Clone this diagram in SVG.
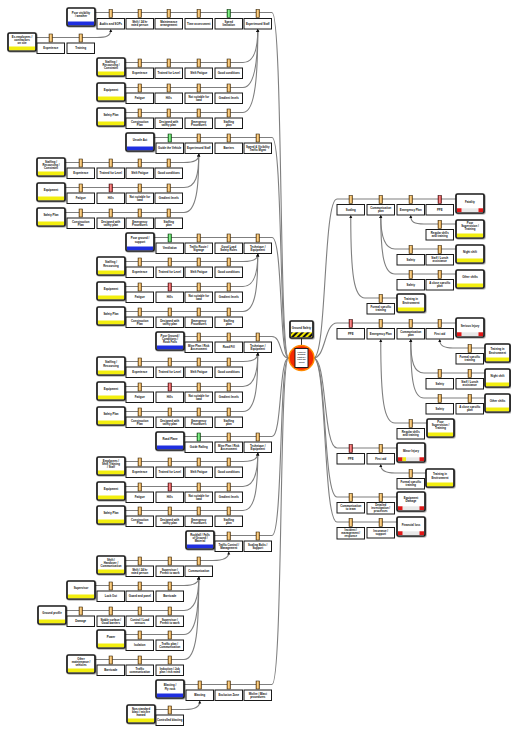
<svg xmlns="http://www.w3.org/2000/svg" width="511" height="729" viewBox="0 0 511 729">
<defs>
<linearGradient id="go" x1="0" x2="1"><stop offset="0" stop-color="#c27510"/><stop offset=".5" stop-color="#ffe0a0"/><stop offset="1" stop-color="#c27510"/></linearGradient>
<linearGradient id="gg" x1="0" x2="1"><stop offset="0" stop-color="#139a20"/><stop offset=".5" stop-color="#9dfca0"/><stop offset="1" stop-color="#139a20"/></linearGradient>
<linearGradient id="gr" x1="0" x2="1"><stop offset="0" stop-color="#b51010"/><stop offset=".5" stop-color="#ffa0a0"/><stop offset="1" stop-color="#b51010"/></linearGradient>
<pattern id="hz" width="4" height="4" patternUnits="userSpaceOnUse" patternTransform="rotate(45)"><rect width="4" height="4" fill="#f2e600"/><rect width="2" height="4" fill="#111"/></pattern>
<filter id="sh" x="-20%" y="-20%" width="150%" height="150%"><feDropShadow dx="0.8" dy="0.8" stdDeviation="0.6" flood-opacity="0.35"/></filter>
<marker id="m" markerWidth="4" markerHeight="4" refX="2" refY="2" orient="auto" markerUnits="userSpaceOnUse"><path d="M0,0.5 L3,2 L0,3.5Z" fill="#111"/></marker>
</defs>
<style>
.ln{fill:none;stroke:#7f7f7f;stroke-width:1.1}
.es{fill:none;stroke:#7f7f7f;stroke-width:1.1;marker-end:url(#m)}
.bx{fill:#fff;stroke:#1a1a1a;stroke-width:1}
.nd{fill:#fff;stroke:#1a1a1a;stroke-width:1.7;filter:url(#sh)}
.io{fill:url(#go);stroke:#3a2a10;stroke-width:.6}
.ig{fill:url(#gg);stroke:#103a10;stroke-width:.6}
.ir{fill:url(#gr);stroke:#3a1010;stroke-width:.6}
.bl{fill:#1f2fe0}
.ye{fill:#f2ee10}
.rd{fill:#e01818}
.gy{fill:#e8e8e8}
text{font-family:"Liberation Sans",Arial,sans-serif;font-size:2.8px;font-weight:bold;text-anchor:middle;fill:#111}
</style>
<rect width="511" height="729" fill="#fff"/>

<g id="connectors">
<path class="ln" d="M95,12.5 H272 C283,12.5 279,358 288.5,358"/>
<path class="ln" d="M154,137.5 H272 C283,137.5 279,358 288.5,358"/>
<path class="ln" d="M154,237.5 H272 C283,237.5 279,358 288.5,358"/>
<path class="ln" d="M184,336.5 H272 C282,336.5 279,358 288.5,358"/>
<path class="ln" d="M184,436.5 H272 C282,436.5 279,358 288.5,358"/>
<path class="ln" d="M214,535.5 H272 C283,535.5 279,358 288.5,358"/>
<path class="ln" d="M184,684.5 H272 C283,684.5 279,358 288.5,358"/>
<path class="es" d="M36,37.5 H97 C106,37.5 110.75,36 110.75,30"/>
<path class="es" d="M125,62.5 H243 C254,62.5 257.75,50 257.75,30"/>
<path class="es" d="M125,87.5 H243 C255,87.5 257.75,60 257.75,30"/>
<path class="es" d="M125,112.5 H243 C256,112.5 257.75,70 257.75,30"/>
<path class="es" d="M65,162.5 H184 C195,162.5 198.75,160 198.75,154.5"/>
<path class="es" d="M65,187.5 H184 C196,187.5 198.75,175 198.75,154.5"/>
<path class="es" d="M65,212.5 H184 C197,212.5 198.75,185 198.75,154.5"/>
<path class="es" d="M125,261.5 H243 C254,261.5 257.75,258 257.75,254.5"/>
<path class="es" d="M125,286.5 H243 C255,286.5 257.75,270 257.75,254.5"/>
<path class="es" d="M125,311.5 H243 C256,311.5 257.75,285 257.75,254.5"/>
<path class="es" d="M125,361.5 H243 C254,361.5 257.75,358 257.75,353.5"/>
<path class="es" d="M125,386.5 H243 C255,386.5 257.75,370 257.75,353.5"/>
<path class="es" d="M125,411.5 H243 C256,411.5 257.75,385 257.75,353.5"/>
<path class="es" d="M125,461.5 H243 C254,461.5 257.75,458 257.75,453.5"/>
<path class="es" d="M125,486.5 H243 C255,486.5 257.75,470 257.75,453.5"/>
<path class="es" d="M125,510.5 H243 C256,510.5 257.75,485 257.75,453.5"/>
<path class="es" d="M125,560.5 H213 C224,560.5 228.75,557 228.75,552.5"/>
<path class="es" d="M95,585.5 H184 C195,585.5 198.75,582 198.75,577.5"/>
<path class="es" d="M66,610.5 H184 C196,610.5 198.75,595 198.75,577.5"/>
<path class="es" d="M125,634.5 H184 C196,634.5 198.75,610 198.75,577.5"/>
<path class="es" d="M95,659.5 H184 C197,659.5 198.75,625 198.75,577.5"/>
<path class="es" d="M155,709.5 H185 C196,709.5 199.75,706 199.75,701.5"/>
<path class="ln" d="M313.5,358 C327,358 323,199 337,199 H456"/>
<path class="ln" d="M313.5,358 C326,358 324,323 337,323 H456"/>
<path class="ln" d="M313.5,358 C327,358 323,448 337,448 H397"/>
<path class="ln" d="M313.5,358 C327,358 323,497 337,497 H397"/>
<path class="ln" d="M313.5,358 C327,358 323,522 337,522 H397"/>
<path class="es" d="M456,224 H424 C414,224 410.75,222 410.75,216"/>
<path class="es" d="M456,249 H395 C385,249 380.75,238 380.75,216"/>
<path class="es" d="M456,274 H395 C384,274 380.75,255 380.75,216"/>
<path class="es" d="M397,298 H365 C354,298 350.75,275 350.75,216"/>
<path class="es" d="M485,348 H453 C444,348 439.75,346 439.75,340"/>
<path class="es" d="M485,373 H424 C414,373 410.75,362 410.75,340"/>
<path class="es" d="M485,398 H424 C413,398 410.75,378 410.75,340"/>
<path class="es" d="M427,423 H395 C384,423 380.75,400 380.75,340"/>
<path class="es" d="M426,473 H395 C385,473 380.75,470 380.75,465"/>
<line x1="301.5" y1="338" x2="301.5" y2="345.5" stroke="#333" stroke-width="1"/>
</g>

<!-- Center -->
<g id="hazard"><rect class="nd" x="290" y="321" width="23" height="17" rx="1.2"/><rect x="291" y="332.3" width="21" height="4.8" fill="url(#hz)"/><text x="301.5" y="328.5">Ground Safety</text></g>
<g id="top-event"><circle cx="301.5" cy="358" r="12.5" fill="#f52a00" stroke="#ff8a00" stroke-width="1.5"/><rect x="295" y="348.5" width="13" height="19" fill="#fff" stroke="#111" stroke-width="0.9"/><text style="font-size:2.2px" x="301.5" y="352.5"><tspan>Loss of</tspan><tspan x="301.5" dy="2.6">ground</tspan><tspan x="301.5" dy="2.6">control /</tspan><tspan x="301.5" dy="2.6">rock fall</tspan><tspan x="301.5" dy="2.6">event</tspan></text></g>

<!-- Threat 1 -->
<g id="t1"><rect class="nd" x="67" y="8" width="28" height="18" rx="1.5"/><rect class="bl" x="68" y="21.5" width="26" height="3.7"/><text x="81" y="13.5"><tspan>Poor visibility</tspan><tspan x="81" dy="3.3">/ weather</tspan></text></g>
<g id="t1b1"><rect class="bx" x="97" y="18.5" width="27.5" height="10.5"/><rect class="io" x="109.05" y="9.5" width="3.4" height="8"/><text x="110.75" y="24.8">Audits and SOPs</text></g>
<g id="t1b2"><rect class="bx" x="126" y="18.5" width="27.5" height="10.5"/><rect class="io" x="138.05" y="9.5" width="3.4" height="8"/><text x="139.75" y="23"><tspan>Shift / 24 hr</tspan><tspan x="139.75" dy="3.3">rated person</tspan></text></g>
<g id="t1b3"><rect class="bx" x="155" y="18.5" width="27.5" height="10.5"/><rect class="io" x="167.05" y="9.5" width="3.4" height="8"/><text x="168.75" y="23"><tspan>Maintenance</tspan><tspan x="168.75" dy="3.3">arrangement</tspan></text></g>
<g id="t1b4"><rect class="bx" x="185" y="18.5" width="27.5" height="10.5"/><rect class="io" x="197.05" y="9.5" width="3.4" height="8"/><text x="198.75" y="24.8">Time assessment</text></g>
<g id="t1b5"><rect class="bx" x="215" y="18.5" width="27.5" height="10.5"/><rect class="ig" x="227.05" y="9.5" width="3.4" height="8"/><text x="228.75" y="23"><tspan>Speed</tspan><tspan x="228.75" dy="3.3">limitation</tspan></text></g>
<g id="t1b6"><rect class="bx" x="244" y="18.5" width="27.5" height="10.5"/><rect class="io" x="256.05" y="9.5" width="3.4" height="8"/><text x="257.75" y="24.8">Experienced Staff</text></g>

<g id="e1a"><rect class="nd" x="8" y="33" width="28" height="18" rx="1.5"/><rect class="ye" x="9" y="46.5" width="26" height="3.7"/><text x="22" y="37.8"><tspan>Ex-employees /</tspan><tspan x="22" dy="3.2">contractors</tspan><tspan x="22" dy="3.2">on site</tspan></text></g>
<g id="e1a1"><rect class="bx" x="37" y="43" width="27.5" height="10.5"/><rect class="io" x="49.05" y="34" width="3.4" height="8"/><text x="50.75" y="49.3">Experience</text></g>
<g id="e1a2"><rect class="bx" x="67" y="43" width="27.5" height="10.5"/><rect class="io" x="79.05" y="34" width="3.4" height="8"/><text x="80.75" y="49.3">Training</text></g>

<!-- Escalations group 1 -->
<g id="e1b"><rect class="nd" x="97" y="58" width="28" height="18" rx="1.5"/><rect class="ye" x="98" y="71.5" width="26" height="3.7"/><text x="111" y="62.8"><tspan>Staffing /</tspan><tspan x="111" dy="3.2">Resourcing /</tspan><tspan x="111" dy="3.2">Constraint</tspan></text></g>
<g id="e1b1"><rect class="bx" x="126" y="68" width="27.5" height="10.5"/><rect class="io" x="138.05" y="59" width="3.4" height="8"/><text x="139.75" y="74.3">Experience</text></g>
<g id="e1b2"><rect class="bx" x="155" y="68" width="27.5" height="10.5"/><rect class="io" x="167.05" y="59" width="3.4" height="8"/><text x="168.75" y="74.3">Trained for Level</text></g>
<g id="e1b3"><rect class="bx" x="185" y="68" width="27.5" height="10.5"/><rect class="io" x="197.05" y="59" width="3.4" height="8"/><text x="198.75" y="74.3">Shift Fatigue</text></g>
<g id="e1b4"><rect class="bx" x="215" y="68" width="27.5" height="10.5"/><rect class="io" x="227.05" y="59" width="3.4" height="8"/><text x="228.75" y="74.3">Good conditions</text></g>

<g id="e1c"><rect class="nd" x="97" y="83" width="28" height="18" rx="1.5"/><rect class="ye" x="98" y="96.5" width="26" height="3.7"/><text x="111" y="91">Equipment</text></g>
<g id="e1c1"><rect class="bx" x="126" y="93" width="27.5" height="10.5"/><rect class="io" x="138.05" y="84" width="3.4" height="8"/><text x="139.75" y="99.3">Fatigue</text></g>
<g id="e1c2"><rect class="bx" x="155" y="93" width="27.5" height="10.5"/><rect class="io" x="167.05" y="84" width="3.4" height="8"/><text x="168.75" y="99.3">Hills</text></g>
<g id="e1c3"><rect class="bx" x="185" y="93" width="27.5" height="10.5"/><rect class="io" x="197.05" y="84" width="3.4" height="8"/><text x="198.75" y="97.5"><tspan>Not suitable for</tspan><tspan x="198.75" dy="3.3">load</tspan></text></g>
<g id="e1c4"><rect class="bx" x="215" y="93" width="27.5" height="10.5"/><rect class="io" x="227.05" y="84" width="3.4" height="8"/><text x="228.75" y="99.3">Gradient levels</text></g>

<g id="e1d"><rect class="nd" x="97" y="108" width="28" height="18" rx="1.5"/><rect class="ye" x="98" y="121.5" width="26" height="3.7"/><text x="111" y="116">Safety Plan</text></g>
<g id="e1d1"><rect class="bx" x="126" y="118" width="27.5" height="10.5"/><rect class="io" x="138.05" y="109" width="3.4" height="8"/><text x="139.75" y="122.5"><tspan>Construction</tspan><tspan x="139.75" dy="3.3">Plan</tspan></text></g>
<g id="e1d2"><rect class="bx" x="155" y="118" width="27.5" height="10.5"/><rect class="io" x="167.05" y="109" width="3.4" height="8"/><text x="168.75" y="122.5"><tspan>Designed with</tspan><tspan x="168.75" dy="3.3">safety plan</tspan></text></g>
<g id="e1d3"><rect class="bx" x="185" y="118" width="27.5" height="10.5"/><rect class="io" x="197.05" y="109" width="3.4" height="8"/><text x="198.75" y="122.5"><tspan>Emergency</tspan><tspan x="198.75" dy="3.3">Procedures</tspan></text></g>
<g id="e1d4"><rect class="bx" x="215" y="118" width="27.5" height="10.5"/><rect class="io" x="227.05" y="109" width="3.4" height="8"/><text x="228.75" y="122.5"><tspan>Staffing</tspan><tspan x="228.75" dy="3.3">plan</tspan></text></g>

<!-- Threat 2 -->
<g id="t2"><rect class="nd" x="126" y="133" width="28" height="18" rx="1.5"/><rect class="bl" x="127" y="146.5" width="26" height="3.7"/><text x="140" y="141">Unsafe Act</text></g>
<g id="t2b1"><rect class="bx" x="156" y="143" width="27.5" height="10.5"/><rect class="ig" x="168.05" y="134" width="3.4" height="8"/><text x="169.75" y="149.3">Guide the Vehicle</text></g>
<g id="t2b2"><rect class="bx" x="185" y="143" width="27.5" height="10.5"/><rect class="io" x="197.05" y="134" width="3.4" height="8"/><text x="198.75" y="149.3">Experienced Staff</text></g>
<g id="t2b3"><rect class="bx" x="215" y="143" width="27.5" height="10.5"/><rect class="io" x="227.05" y="134" width="3.4" height="8"/><text x="228.75" y="149.3">Barriers</text></g>
<g id="t2b4"><rect class="bx" x="244" y="143" width="27.5" height="10.5"/><rect class="io" x="256.05" y="134" width="3.4" height="8"/><text x="257.75" y="147.5"><tspan>Speed &amp; Visibility</tspan><tspan x="257.75" dy="3.3">Traffic Mgmt</tspan></text></g>

<g id="e2a"><rect class="nd" x="37" y="158" width="28" height="18" rx="1.5"/><rect class="ye" x="38" y="171.5" width="26" height="3.7"/><text x="51" y="162.8"><tspan>Staffing /</tspan><tspan x="51" dy="3.2">Resourcing /</tspan><tspan x="51" dy="3.2">Constraint</tspan></text></g>
<g id="e2a1"><rect class="bx" x="67" y="168" width="27.5" height="10.5"/><rect class="io" x="79.05" y="159" width="3.4" height="8"/><text x="80.75" y="174.3">Experience</text></g>
<g id="e2a2"><rect class="bx" x="97" y="168" width="27.5" height="10.5"/><rect class="io" x="109.05" y="159" width="3.4" height="8"/><text x="110.75" y="174.3">Trained for Level</text></g>
<g id="e2a3"><rect class="bx" x="126" y="168" width="27.5" height="10.5"/><rect class="io" x="138.05" y="159" width="3.4" height="8"/><text x="139.75" y="174.3">Shift Fatigue</text></g>
<g id="e2a4"><rect class="bx" x="155" y="168" width="27.5" height="10.5"/><rect class="io" x="167.05" y="159" width="3.4" height="8"/><text x="168.75" y="174.3">Good conditions</text></g>

<g id="e2b"><rect class="nd" x="37" y="183" width="28" height="18" rx="1.5"/><rect class="ye" x="38" y="196.5" width="26" height="3.7"/><text x="51" y="191">Equipment</text></g>
<g id="e2b1"><rect class="bx" x="67" y="193" width="27.5" height="10.5"/><rect class="io" x="79.05" y="184" width="3.4" height="8"/><text x="80.75" y="199.3">Fatigue</text></g>
<g id="e2b2"><rect class="bx" x="97" y="193" width="27.5" height="10.5"/><rect class="ir" x="109.05" y="184" width="3.4" height="8"/><text x="110.75" y="199.3">Hills</text></g>
<g id="e2b3"><rect class="bx" x="126" y="193" width="27.5" height="10.5"/><rect class="io" x="138.05" y="184" width="3.4" height="8"/><text x="139.75" y="197.5"><tspan>Not suitable for</tspan><tspan x="139.75" dy="3.3">load</tspan></text></g>
<g id="e2b4"><rect class="bx" x="155" y="193" width="27.5" height="10.5"/><rect class="io" x="167.05" y="184" width="3.4" height="8"/><text x="168.75" y="199.3">Gradient levels</text></g>

<g id="e2c"><rect class="nd" x="37" y="208" width="28" height="18" rx="1.5"/><rect class="ye" x="38" y="221.5" width="26" height="3.7"/><text x="51" y="216">Safety Plan</text></g>
<g id="e2c1"><rect class="bx" x="67" y="218" width="27.5" height="10.5"/><rect class="io" x="79.05" y="209" width="3.4" height="8"/><text x="80.75" y="222.5"><tspan>Construction</tspan><tspan x="80.75" dy="3.3">Plan</tspan></text></g>
<g id="e2c2"><rect class="bx" x="97" y="218" width="27.5" height="10.5"/><rect class="io" x="109.05" y="209" width="3.4" height="8"/><text x="110.75" y="222.5"><tspan>Designed with</tspan><tspan x="110.75" dy="3.3">safety plan</tspan></text></g>
<g id="e2c3"><rect class="bx" x="126" y="218" width="27.5" height="10.5"/><rect class="io" x="138.05" y="209" width="3.4" height="8"/><text x="139.75" y="222.5"><tspan>Emergency</tspan><tspan x="139.75" dy="3.3">Procedures</tspan></text></g>
<g id="e2c4"><rect class="bx" x="155" y="218" width="27.5" height="10.5"/><rect class="io" x="167.05" y="209" width="3.4" height="8"/><text x="168.75" y="222.5"><tspan>Staffing</tspan><tspan x="168.75" dy="3.3">plan</tspan></text></g>

<!-- Threat 3 -->
<g id="t3"><rect class="nd" x="126" y="233" width="28" height="18" rx="1.5"/><rect class="bl" x="127" y="246.5" width="26" height="3.7"/><text x="140" y="239.3"><tspan>Poor ground /</tspan><tspan x="140" dy="3.3">support</tspan></text></g>
<g id="t3b1"><rect class="bx" x="156" y="243" width="27.5" height="10.5"/><rect class="ig" x="168.05" y="234" width="3.4" height="8"/><text x="169.75" y="249.3">Ventilation</text></g>
<g id="t3b2"><rect class="bx" x="185" y="243" width="27.5" height="10.5"/><rect class="io" x="197.05" y="234" width="3.4" height="8"/><text x="198.75" y="247.5"><tspan>Traffic Route /</tspan><tspan x="198.75" dy="3.3">Signage</tspan></text></g>
<g id="t3b3"><rect class="bx" x="215" y="243" width="27.5" height="10.5"/><rect class="io" x="227.05" y="234" width="3.4" height="8"/><text x="228.75" y="247.5"><tspan>Good Load</tspan><tspan x="228.75" dy="3.3">Safety Rules</tspan></text></g>
<g id="t3b4"><rect class="bx" x="244" y="243" width="27.5" height="10.5"/><rect class="io" x="256.05" y="234" width="3.4" height="8"/><text x="257.75" y="247.5"><tspan>Technique /</tspan><tspan x="257.75" dy="3.3">Equipment</tspan></text></g>

<g id="e3a"><rect class="nd" x="97" y="257" width="28" height="18" rx="1.5"/><rect class="ye" x="98" y="270.5" width="26" height="3.7"/><text x="111" y="263.3"><tspan>Staffing /</tspan><tspan x="111" dy="3.3">Resourcing</tspan></text></g>
<g id="e3a1"><rect class="bx" x="126" y="267" width="27.5" height="10.5"/><rect class="io" x="138.05" y="258" width="3.4" height="8"/><text x="139.75" y="273.3">Experience</text></g>
<g id="e3a2"><rect class="bx" x="156" y="267" width="27.5" height="10.5"/><rect class="io" x="168.05" y="258" width="3.4" height="8"/><text x="169.75" y="273.3">Trained for Level</text></g>
<g id="e3a3"><rect class="bx" x="185" y="267" width="27.5" height="10.5"/><rect class="io" x="197.05" y="258" width="3.4" height="8"/><text x="198.75" y="273.3">Shift Fatigue</text></g>
<g id="e3a4"><rect class="bx" x="215" y="267" width="27.5" height="10.5"/><rect class="io" x="227.05" y="258" width="3.4" height="8"/><text x="228.75" y="273.3">Good conditions</text></g>

<g id="e3b"><rect class="nd" x="97" y="282" width="28" height="18" rx="1.5"/><rect class="ye" x="98" y="295.5" width="26" height="3.7"/><text x="111" y="290">Equipment</text></g>
<g id="e3b1"><rect class="bx" x="126" y="292" width="27.5" height="10.5"/><rect class="io" x="138.05" y="283" width="3.4" height="8"/><text x="139.75" y="298.3">Fatigue</text></g>
<g id="e3b2"><rect class="bx" x="156" y="292" width="27.5" height="10.5"/><rect class="ir" x="168.05" y="283" width="3.4" height="8"/><text x="169.75" y="298.3">Hills</text></g>
<g id="e3b3"><rect class="bx" x="185" y="292" width="27.5" height="10.5"/><rect class="io" x="197.05" y="283" width="3.4" height="8"/><text x="198.75" y="296.5"><tspan>Not suitable for</tspan><tspan x="198.75" dy="3.3">load</tspan></text></g>
<g id="e3b4"><rect class="bx" x="215" y="292" width="27.5" height="10.5"/><rect class="io" x="227.05" y="283" width="3.4" height="8"/><text x="228.75" y="298.3">Gradient levels</text></g>

<g id="e3c"><rect class="nd" x="97" y="307" width="28" height="18" rx="1.5"/><rect class="ye" x="98" y="320.5" width="26" height="3.7"/><text x="111" y="315">Safety Plan</text></g>
<g id="e3c1"><rect class="bx" x="126" y="317" width="27.5" height="10.5"/><rect class="io" x="138.05" y="308" width="3.4" height="8"/><text x="139.75" y="321.5"><tspan>Construction</tspan><tspan x="139.75" dy="3.3">Plan</tspan></text></g>
<g id="e3c2"><rect class="bx" x="156" y="317" width="27.5" height="10.5"/><rect class="io" x="168.05" y="308" width="3.4" height="8"/><text x="169.75" y="321.5"><tspan>Designed with</tspan><tspan x="169.75" dy="3.3">safety plan</tspan></text></g>
<g id="e3c3"><rect class="bx" x="185" y="317" width="27.5" height="10.5"/><rect class="io" x="197.05" y="308" width="3.4" height="8"/><text x="198.75" y="321.5"><tspan>Emergency</tspan><tspan x="198.75" dy="3.3">Procedures</tspan></text></g>
<g id="e3c4"><rect class="bx" x="215" y="317" width="27.5" height="10.5"/><rect class="io" x="227.05" y="308" width="3.4" height="8"/><text x="228.75" y="321.5"><tspan>Staffing</tspan><tspan x="228.75" dy="3.3">plan</tspan></text></g>

<!-- Threat 4 -->
<g id="t4"><rect class="nd" x="156" y="332" width="28" height="18" rx="1.5"/><rect class="bl" x="157" y="345.5" width="26" height="3.7"/><text x="170" y="336.8"><tspan>Poor Ground /</tspan><tspan x="170" dy="3.2">Conditions /</tspan><tspan x="170" dy="3.2">Rock Falls</tspan></text></g>
<g id="t4b1"><rect class="bx" x="185" y="342" width="27.5" height="10.5"/><rect class="io" x="197.05" y="333" width="3.4" height="8"/><text x="198.75" y="346.5"><tspan>Mine Plan / Risk</tspan><tspan x="198.75" dy="3.3">Assessment</tspan></text></g>
<g id="t4b2"><rect class="bx" x="215" y="342" width="27.5" height="10.5"/><rect class="io" x="227.05" y="333" width="3.4" height="8"/><text x="228.75" y="348.3">Road Fill</text></g>
<g id="t4b3"><rect class="bx" x="244" y="342" width="27.5" height="10.5"/><rect class="io" x="256.05" y="333" width="3.4" height="8"/><text x="257.75" y="346.5"><tspan>Technique /</tspan><tspan x="257.75" dy="3.3">Equipment</tspan></text></g>

<g id="e4a"><rect class="nd" x="97" y="357" width="28" height="18" rx="1.5"/><rect class="ye" x="98" y="370.5" width="26" height="3.7"/><text x="111" y="363.3"><tspan>Staffing /</tspan><tspan x="111" dy="3.3">Resourcing</tspan></text></g>
<g id="e4a1"><rect class="bx" x="126" y="367" width="27.5" height="10.5"/><rect class="io" x="138.05" y="358" width="3.4" height="8"/><text x="139.75" y="373.3">Experience</text></g>
<g id="e4a2"><rect class="bx" x="156" y="367" width="27.5" height="10.5"/><rect class="io" x="168.05" y="358" width="3.4" height="8"/><text x="169.75" y="373.3">Trained for Level</text></g>
<g id="e4a3"><rect class="bx" x="185" y="367" width="27.5" height="10.5"/><rect class="io" x="197.05" y="358" width="3.4" height="8"/><text x="198.75" y="373.3">Shift Fatigue</text></g>
<g id="e4a4"><rect class="bx" x="215" y="367" width="27.5" height="10.5"/><rect class="io" x="227.05" y="358" width="3.4" height="8"/><text x="228.75" y="373.3">Good conditions</text></g>

<g id="e4b"><rect class="nd" x="97" y="382" width="28" height="18" rx="1.5"/><rect class="ye" x="98" y="395.5" width="26" height="3.7"/><text x="111" y="390">Equipment</text></g>
<g id="e4b1"><rect class="bx" x="126" y="392" width="27.5" height="10.5"/><rect class="io" x="138.05" y="383" width="3.4" height="8"/><text x="139.75" y="398.3">Fatigue</text></g>
<g id="e4b2"><rect class="bx" x="156" y="392" width="27.5" height="10.5"/><rect class="ir" x="168.05" y="383" width="3.4" height="8"/><text x="169.75" y="398.3">Hills</text></g>
<g id="e4b3"><rect class="bx" x="185" y="392" width="27.5" height="10.5"/><rect class="io" x="197.05" y="383" width="3.4" height="8"/><text x="198.75" y="396.5"><tspan>Not suitable for</tspan><tspan x="198.75" dy="3.3">load</tspan></text></g>
<g id="e4b4"><rect class="bx" x="215" y="392" width="27.5" height="10.5"/><rect class="io" x="227.05" y="383" width="3.4" height="8"/><text x="228.75" y="398.3">Gradient levels</text></g>

<g id="e4c"><rect class="nd" x="97" y="407" width="28" height="18" rx="1.5"/><rect class="ye" x="98" y="420.5" width="26" height="3.7"/><text x="111" y="415">Safety Plan</text></g>
<g id="e4c1"><rect class="bx" x="126" y="417" width="27.5" height="10.5"/><rect class="io" x="138.05" y="408" width="3.4" height="8"/><text x="139.75" y="421.5"><tspan>Construction</tspan><tspan x="139.75" dy="3.3">Plan</tspan></text></g>
<g id="e4c2"><rect class="bx" x="156" y="417" width="27.5" height="10.5"/><rect class="io" x="168.05" y="408" width="3.4" height="8"/><text x="169.75" y="421.5"><tspan>Designed with</tspan><tspan x="169.75" dy="3.3">safety plan</tspan></text></g>
<g id="e4c3"><rect class="bx" x="185" y="417" width="27.5" height="10.5"/><rect class="io" x="197.05" y="408" width="3.4" height="8"/><text x="198.75" y="421.5"><tspan>Emergency</tspan><tspan x="198.75" dy="3.3">Procedures</tspan></text></g>
<g id="e4c4"><rect class="bx" x="215" y="417" width="27.5" height="10.5"/><rect class="io" x="227.05" y="408" width="3.4" height="8"/><text x="228.75" y="421.5"><tspan>Staffing</tspan><tspan x="228.75" dy="3.3">plan</tspan></text></g>

<!-- Threat 5 -->
<g id="t5"><rect class="nd" x="156" y="432" width="28" height="18" rx="1.5"/><rect class="bl" x="157" y="445.5" width="26" height="3.7"/><text x="170" y="440">Road Plane</text></g>
<g id="t5b1"><rect class="bx" x="185" y="442" width="27.5" height="10.5"/><rect class="ig" x="197.05" y="433" width="3.4" height="8"/><text x="198.75" y="448.3">Guide Railing</text></g>
<g id="t5b2"><rect class="bx" x="215" y="442" width="27.5" height="10.5"/><rect class="io" x="227.05" y="433" width="3.4" height="8"/><text x="228.75" y="446.5"><tspan>Mine Plan / Risk</tspan><tspan x="228.75" dy="3.3">Assessment</tspan></text></g>
<g id="t5b3"><rect class="bx" x="244" y="442" width="27.5" height="10.5"/><rect class="io" x="256.05" y="433" width="3.4" height="8"/><text x="257.75" y="446.5"><tspan>Technique /</tspan><tspan x="257.75" dy="3.3">Equipment</tspan></text></g>

<g id="e5a"><rect class="nd" x="97" y="457" width="28" height="18" rx="1.5"/><rect class="ye" x="98" y="470.5" width="26" height="3.7"/><text x="111" y="461.8"><tspan>Employees /</tspan><tspan x="111" dy="3.2">Shift Training</tspan><tspan x="111" dy="3.2">/ Staff</tspan></text></g>
<g id="e5a1"><rect class="bx" x="126" y="467" width="27.5" height="10.5"/><rect class="io" x="138.05" y="458" width="3.4" height="8"/><text x="139.75" y="473.3">Experience</text></g>
<g id="e5a2"><rect class="bx" x="156" y="467" width="27.5" height="10.5"/><rect class="io" x="168.05" y="458" width="3.4" height="8"/><text x="169.75" y="473.3">Trained for Level</text></g>
<g id="e5a3"><rect class="bx" x="185" y="467" width="27.5" height="10.5"/><rect class="io" x="197.05" y="458" width="3.4" height="8"/><text x="198.75" y="473.3">Shift Fatigue</text></g>
<g id="e5a4"><rect class="bx" x="215" y="467" width="27.5" height="10.5"/><rect class="io" x="227.05" y="458" width="3.4" height="8"/><text x="228.75" y="473.3">Good conditions</text></g>

<g id="e5b"><rect class="nd" x="97" y="482" width="28" height="18" rx="1.5"/><rect class="ye" x="98" y="495.5" width="26" height="3.7"/><text x="111" y="490">Equipment</text></g>
<g id="e5b1"><rect class="bx" x="126" y="492" width="27.5" height="10.5"/><rect class="io" x="138.05" y="483" width="3.4" height="8"/><text x="139.75" y="498.3">Fatigue</text></g>
<g id="e5b2"><rect class="bx" x="156" y="492" width="27.5" height="10.5"/><rect class="ir" x="168.05" y="483" width="3.4" height="8"/><text x="169.75" y="498.3">Hills</text></g>
<g id="e5b3"><rect class="bx" x="185" y="492" width="27.5" height="10.5"/><rect class="io" x="197.05" y="483" width="3.4" height="8"/><text x="198.75" y="496.5"><tspan>Not suitable for</tspan><tspan x="198.75" dy="3.3">load</tspan></text></g>
<g id="e5b4"><rect class="bx" x="215" y="492" width="27.5" height="10.5"/><rect class="io" x="227.05" y="483" width="3.4" height="8"/><text x="228.75" y="498.3">Gradient levels</text></g>

<g id="e5c"><rect class="nd" x="97" y="506" width="28" height="18" rx="1.5"/><rect class="ye" x="98" y="519.5" width="26" height="3.7"/><text x="111" y="514">Safety Plan</text></g>
<g id="e5c1"><rect class="bx" x="126" y="516" width="27.5" height="10.5"/><rect class="io" x="138.05" y="507" width="3.4" height="8"/><text x="139.75" y="520.5"><tspan>Construction</tspan><tspan x="139.75" dy="3.3">Plan</tspan></text></g>
<g id="e5c2"><rect class="bx" x="156" y="516" width="27.5" height="10.5"/><rect class="io" x="168.05" y="507" width="3.4" height="8"/><text x="169.75" y="520.5"><tspan>Designed with</tspan><tspan x="169.75" dy="3.3">safety plan</tspan></text></g>
<g id="e5c3"><rect class="bx" x="185" y="516" width="27.5" height="10.5"/><rect class="io" x="197.05" y="507" width="3.4" height="8"/><text x="198.75" y="520.5"><tspan>Emergency</tspan><tspan x="198.75" dy="3.3">Procedures</tspan></text></g>
<g id="e5c4"><rect class="bx" x="215" y="516" width="27.5" height="10.5"/><rect class="io" x="227.05" y="507" width="3.4" height="8"/><text x="228.75" y="520.5"><tspan>Staffing</tspan><tspan x="228.75" dy="3.3">plan</tspan></text></g>

<!-- Threat 6 -->
<g id="t6"><rect class="nd" x="186" y="531" width="28" height="18" rx="1.5"/><rect class="bl" x="187" y="544.5" width="26" height="3.7"/><text x="200" y="535.8"><tspan>Rockfall / Falls</tspan><tspan x="200" dy="3.2">of Ground /</tspan><tspan x="200" dy="3.2">Material</tspan></text></g>
<g id="t6b1"><rect class="bx" x="215" y="541" width="27.5" height="10.5"/><rect class="io" x="227.05" y="532" width="3.4" height="8"/><text x="228.75" y="545.5"><tspan>Traffic Control /</tspan><tspan x="228.75" dy="3.3">Management</tspan></text></g>
<g id="t6b2"><rect class="bx" x="244" y="541" width="27.5" height="10.5"/><rect class="io" x="256.05" y="532" width="3.4" height="8"/><text x="257.75" y="545.5"><tspan>Scaling Bolts /</tspan><tspan x="257.75" dy="3.3">Support</tspan></text></g>

<g id="e6a"><rect class="nd" x="97" y="556" width="28" height="18" rx="1.5"/><rect class="ye" x="98" y="569.5" width="26" height="3.7"/><text x="111" y="560.8"><tspan>Shift /</tspan><tspan x="111" dy="3.2">Handover /</tspan><tspan x="111" dy="3.2">Communication</tspan></text></g>
<g id="e6a1"><rect class="bx" x="126" y="566" width="27.5" height="10.5"/><rect class="io" x="138.05" y="557" width="3.4" height="8"/><text x="139.75" y="570.5"><tspan>Shift / 24 hr</tspan><tspan x="139.75" dy="3.3">rated person</tspan></text></g>
<g id="e6a2"><rect class="bx" x="156" y="566" width="27.5" height="10.5"/><rect class="io" x="168.05" y="557" width="3.4" height="8"/><text x="169.75" y="570.5"><tspan>Supervisor /</tspan><tspan x="169.75" dy="3.3">Permit to work</tspan></text></g>
<g id="e6a3"><rect class="bx" x="185" y="566" width="27.5" height="10.5"/><rect class="io" x="197.05" y="557" width="3.4" height="8"/><text x="198.75" y="572.3">Communication</text></g>

<g id="e6b"><rect class="nd" x="67" y="581" width="28" height="18" rx="1.5"/><rect class="ye" x="68" y="594.5" width="26" height="3.7"/><text x="81" y="589">Supervisor</text></g>
<g id="e6b1"><rect class="bx" x="97" y="591" width="27.5" height="10.5"/><rect class="io" x="109.05" y="582" width="3.4" height="8"/><text x="110.75" y="597.3">Lock Out</text></g>
<g id="e6b2"><rect class="bx" x="126" y="591" width="27.5" height="10.5"/><rect class="io" x="138.05" y="582" width="3.4" height="8"/><text x="139.75" y="597.3">Guard and panel</text></g>
<g id="e6b3"><rect class="bx" x="156" y="591" width="27.5" height="10.5"/><rect class="io" x="168.05" y="582" width="3.4" height="8"/><text x="169.75" y="597.3">Barricade</text></g>

<g id="e6c"><rect class="nd" x="38" y="606" width="28" height="18" rx="1.5"/><rect class="ye" x="39" y="619.5" width="26" height="3.7"/><text x="52" y="614">Ground profile</text></g>
<g id="e6c1"><rect class="bx" x="67" y="616" width="27.5" height="10.5"/><rect class="io" x="79.05" y="607" width="3.4" height="8"/><text x="80.75" y="622.3">Damage</text></g>
<g id="e6c2"><rect class="bx" x="97" y="616" width="27.5" height="10.5"/><rect class="io" x="109.05" y="607" width="3.4" height="8"/><text x="110.75" y="620.5"><tspan>Stable surface /</tspan><tspan x="110.75" dy="3.3">Good barriers</tspan></text></g>
<g id="e6c3"><rect class="bx" x="126" y="616" width="27.5" height="10.5"/><rect class="io" x="138.05" y="607" width="3.4" height="8"/><text x="139.75" y="620.5"><tspan>Control / Load</tspan><tspan x="139.75" dy="3.3">sensors</tspan></text></g>
<g id="e6c4"><rect class="bx" x="156" y="616" width="27.5" height="10.5"/><rect class="io" x="168.05" y="607" width="3.4" height="8"/><text x="169.75" y="620.5"><tspan>Supervisor /</tspan><tspan x="169.75" dy="3.3">Permit to work</tspan></text></g>

<g id="e6d"><rect class="nd" x="97" y="630" width="28" height="18" rx="1.5"/><rect class="ye" x="98" y="643.5" width="26" height="3.7"/><text x="111" y="638">Power</text></g>
<g id="e6d1"><rect class="bx" x="126" y="640" width="27.5" height="10.5"/><rect class="io" x="138.05" y="631" width="3.4" height="8"/><text x="139.75" y="646.3">Isolation</text></g>
<g id="e6d2"><rect class="bx" x="156" y="640" width="27.5" height="10.5"/><rect class="io" x="168.05" y="631" width="3.4" height="8"/><text x="169.75" y="644.5"><tspan>Traffic plan /</tspan><tspan x="169.75" dy="3.3">Communication</tspan></text></g>

<g id="e6e"><rect class="nd" x="67" y="655" width="28" height="18" rx="1.5"/><rect class="ye" x="68" y="668.5" width="26" height="3.7"/><text x="81" y="659.8"><tspan>Other</tspan><tspan x="81" dy="3.2">maintenance /</tspan><tspan x="81" dy="3.2">vehicles</tspan></text></g>
<g id="e6e1"><rect class="bx" x="97" y="665" width="27.5" height="10.5"/><rect class="io" x="109.05" y="656" width="3.4" height="8"/><text x="110.75" y="671.3">Barricade</text></g>
<g id="e6e2"><rect class="bx" x="126" y="665" width="27.5" height="10.5"/><rect class="io" x="138.05" y="656" width="3.4" height="8"/><text x="139.75" y="669.5"><tspan>Traffic</tspan><tspan x="139.75" dy="3.3">communication</tspan></text></g>
<g id="e6e3"><rect class="bx" x="156" y="665" width="27.5" height="10.5"/><rect class="io" x="168.05" y="656" width="3.4" height="8"/><text x="169.75" y="669.5"><tspan>Induction / Job</tspan><tspan x="169.75" dy="3.3">plan / risk rated</tspan></text></g>

<!-- Threat 7 -->
<g id="t7"><rect class="nd" x="156" y="680" width="28" height="18" rx="1.5"/><rect class="bl" x="157" y="693.5" width="26" height="3.7"/><text x="170" y="686.3"><tspan>Blasting /</tspan><tspan x="170" dy="3.3">Fly rock</tspan></text></g>
<g id="t7b1"><rect class="bx" x="186" y="690" width="27.5" height="10.5"/><rect class="io" x="198.05" y="681" width="3.4" height="8"/><text x="199.75" y="696.3">Blasting</text></g>
<g id="t7b2"><rect class="bx" x="215" y="690" width="27.5" height="10.5"/><rect class="io" x="227.05" y="681" width="3.4" height="8"/><text x="228.75" y="696.3">Exclusion Zone</text></g>
<g id="t7b3"><rect class="bx" x="244" y="690" width="27.5" height="10.5"/><rect class="io" x="256.05" y="681" width="3.4" height="8"/><text x="257.75" y="694.5"><tspan>Misfire / Blast</tspan><tspan x="257.75" dy="3.3">procedures</tspan></text></g>

<g id="e7"><rect class="nd" x="127" y="705" width="28" height="18" rx="1.5"/><rect class="ye" x="128" y="718.5" width="26" height="3.7"/><text x="141" y="709.8"><tspan>Non-standard</tspan><tspan x="141" dy="3.2">blast / misfire</tspan><tspan x="141" dy="3.2">hazard</tspan></text></g>
<g id="e7b1"><rect class="bx" x="156" y="715" width="27.5" height="10.5"/><rect class="io" x="168.05" y="706" width="3.4" height="8"/><text x="169.75" y="721.3">Controlled blasting</text></g>

<!-- Right side: consequence 1 -->
<g id="c1b1"><rect class="bx" x="337" y="204.5" width="27.5" height="10.5"/><rect class="io" x="349.05" y="195.5" width="3.4" height="8"/><text x="350.75" y="210.8">Scaling</text></g>
<g id="c1b2"><rect class="bx" x="367" y="204.5" width="27.5" height="10.5"/><rect class="io" x="379.05" y="195.5" width="3.4" height="8"/><text x="380.75" y="209"><tspan>Communication</tspan><tspan x="380.75" dy="3.3">plan</tspan></text></g>
<g id="c1b3"><rect class="bx" x="397" y="204.5" width="27.5" height="10.5"/><rect class="io" x="409.05" y="195.5" width="3.4" height="8"/><text x="410.75" y="210.8">Emergency Plan</text></g>
<g id="c1b4"><rect class="bx" x="426" y="204.5" width="27.5" height="10.5"/><rect class="ir" x="438.05" y="195.5" width="3.4" height="8"/><text x="439.75" y="210.8">PPE</text></g>
<g id="c1"><rect class="nd" x="456" y="194" width="28" height="19" rx="1.5"/><rect class="gy" x="457" y="208.3" width="26" height="3.8"/><rect class="rd" x="457" y="208.3" width="4.5" height="3.8"/><rect class="rd" x="478.5" y="208.3" width="4.5" height="3.8"/><text x="470" y="203">Fatality</text></g>

<g id="r1a"><rect class="nd" x="456" y="220" width="28" height="18" rx="1.5"/><rect class="ye" x="457" y="233.5" width="26" height="3.7"/><text x="470" y="223.8"><tspan>Poor</tspan><tspan x="470" dy="3.2">Supervision /</tspan><tspan x="470" dy="3.2">Training</tspan></text></g>
<g id="r1a1"><rect class="bx" x="426" y="229.5" width="27.5" height="10.5"/><rect class="io" x="438.05" y="220.5" width="3.4" height="8"/><text x="439.75" y="234"><tspan>Regular drills</tspan><tspan x="439.75" dy="3.3">and training</tspan></text></g>
<g id="r1b"><rect class="nd" x="456" y="245" width="28" height="18" rx="1.5"/><rect class="ye" x="457" y="258.5" width="26" height="3.7"/><text x="470" y="253">Night shift</text></g>
<g id="r1b1"><rect class="bx" x="397" y="254.5" width="27.5" height="10.5"/><rect class="io" x="409.05" y="245.5" width="3.4" height="8"/><text x="410.75" y="260.8">Safety</text></g>
<g id="r1b2"><rect class="bx" x="426" y="254.5" width="27.5" height="10.5"/><rect class="io" x="438.05" y="245.5" width="3.4" height="8"/><text x="439.75" y="259"><tspan>Staff / Lunch</tspan><tspan x="439.75" dy="3.3">assistance</tspan></text></g>
<g id="r1c"><rect class="nd" x="456" y="270" width="28" height="18" rx="1.5"/><rect class="ye" x="457" y="283.5" width="26" height="3.7"/><text x="470" y="278">Other shifts</text></g>
<g id="r1c1"><rect class="bx" x="397" y="279.5" width="27.5" height="10.5"/><rect class="io" x="409.05" y="270.5" width="3.4" height="8"/><text x="410.75" y="285.8">Safety</text></g>
<g id="r1c2"><rect class="bx" x="426" y="279.5" width="27.5" height="10.5"/><rect class="io" x="438.05" y="270.5" width="3.4" height="8"/><text x="439.75" y="284"><tspan>A close specific</tspan><tspan x="439.75" dy="3.3">plan</tspan></text></g>
<g id="r1d"><rect class="nd" x="397" y="294" width="28" height="18" rx="1.5"/><rect class="ye" x="398" y="307.5" width="26" height="3.7"/><text x="411" y="300.3"><tspan>Training in</tspan><tspan x="411" dy="3.3">Environment</tspan></text></g>
<g id="r1d1"><rect class="bx" x="367" y="303.5" width="27.5" height="10.5"/><rect class="io" x="379.05" y="294.5" width="3.4" height="8"/><text x="380.75" y="308"><tspan>Formal specific</tspan><tspan x="380.75" dy="3.3">training</tspan></text></g>

<!-- consequence 2 -->
<g id="c2b1"><rect class="bx" x="337" y="328.5" width="27.5" height="10.5"/><rect class="ir" x="349.05" y="319.5" width="3.4" height="8"/><text x="350.75" y="334.8">PPE</text></g>
<g id="c2b2"><rect class="bx" x="367" y="328.5" width="27.5" height="10.5"/><rect class="io" x="379.05" y="319.5" width="3.4" height="8"/><text x="380.75" y="334.8">Emergency Plan</text></g>
<g id="c2b3"><rect class="bx" x="397" y="328.5" width="27.5" height="10.5"/><rect class="io" x="409.05" y="319.5" width="3.4" height="8"/><text x="410.75" y="333"><tspan>Communication</tspan><tspan x="410.75" dy="3.3">plan</tspan></text></g>
<g id="c2b4"><rect class="bx" x="426" y="328.5" width="27.5" height="10.5"/><rect class="io" x="438.05" y="319.5" width="3.4" height="8"/><text x="439.75" y="334.8">First aid</text></g>
<g id="c2"><rect class="nd" x="456" y="318" width="28" height="19" rx="1.5"/><rect class="gy" x="457" y="332.3" width="26" height="3.8"/><rect class="rd" x="457" y="332.3" width="4.5" height="3.8"/><rect class="rd" x="478.5" y="332.3" width="4.5" height="3.8"/><text x="470" y="327">Serious Injury</text></g>

<g id="r2a"><rect class="nd" x="485" y="344" width="25" height="18" rx="1.5"/><rect class="ye" x="486" y="357.5" width="23" height="3.7"/><text x="497.5" y="350.3"><tspan>Training in</tspan><tspan x="497.5" dy="3.3">Environment</tspan></text></g>
<g id="r2a1"><rect class="bx" x="456" y="353.5" width="27.5" height="10.5"/><rect class="io" x="468.05" y="344.5" width="3.4" height="8"/><text x="469.75" y="358"><tspan>Formal specific</tspan><tspan x="469.75" dy="3.3">training</tspan></text></g>
<g id="r2b"><rect class="nd" x="485" y="369" width="25" height="18" rx="1.5"/><rect class="ye" x="486" y="382.5" width="23" height="3.7"/><text x="497.5" y="377">Night shift</text></g>
<g id="r2b1"><rect class="bx" x="426" y="378.5" width="27.5" height="10.5"/><rect class="io" x="438.05" y="369.5" width="3.4" height="8"/><text x="439.75" y="384.8">Safety</text></g>
<g id="r2b2"><rect class="bx" x="456" y="378.5" width="27.5" height="10.5"/><rect class="io" x="468.05" y="369.5" width="3.4" height="8"/><text x="469.75" y="383"><tspan>Staff / Lunch</tspan><tspan x="469.75" dy="3.3">assistance</tspan></text></g>
<g id="r2c"><rect class="nd" x="485" y="394" width="25" height="18" rx="1.5"/><rect class="ye" x="486" y="407.5" width="23" height="3.7"/><text x="497.5" y="402">Other shifts</text></g>
<g id="r2c1"><rect class="bx" x="426" y="403.5" width="27.5" height="10.5"/><rect class="io" x="438.05" y="394.5" width="3.4" height="8"/><text x="439.75" y="409.8">Safety</text></g>
<g id="r2c2"><rect class="bx" x="456" y="403.5" width="27.5" height="10.5"/><rect class="io" x="468.05" y="394.5" width="3.4" height="8"/><text x="469.75" y="408"><tspan>A close specific</tspan><tspan x="469.75" dy="3.3">plan</tspan></text></g>
<g id="r2d"><rect class="nd" x="427" y="419" width="27" height="18" rx="1.5"/><rect class="ye" x="428" y="432.5" width="25" height="3.7"/><text x="440.5" y="422.8"><tspan>Poor</tspan><tspan x="440.5" dy="3.2">Supervision /</tspan><tspan x="440.5" dy="3.2">Training</tspan></text></g>
<g id="r2d1"><rect class="bx" x="397" y="428.5" width="27.5" height="10.5"/><rect class="io" x="409.05" y="419.5" width="3.4" height="8"/><text x="410.75" y="433"><tspan>Regular drills</tspan><tspan x="410.75" dy="3.3">and training</tspan></text></g>

<!-- consequence 3 -->
<g id="c3b1"><rect class="bx" x="337" y="453.5" width="27.5" height="10.5"/><rect class="ir" x="349.05" y="444.5" width="3.4" height="8"/><text x="350.75" y="459.8">PPE</text></g>
<g id="c3b2"><rect class="bx" x="367" y="453.5" width="27.5" height="10.5"/><rect class="io" x="379.05" y="444.5" width="3.4" height="8"/><text x="380.75" y="459.8">First aid</text></g>
<g id="c3"><rect class="nd" x="397" y="443" width="28" height="19" rx="1.5"/><rect class="gy" x="398" y="457.3" width="26" height="3.8"/><rect class="rd" x="398" y="457.3" width="4.5" height="3.8"/><rect class="ye" x="402.5" y="457.3" width="3.5" height="3.8"/><rect class="rd" x="419.5" y="457.3" width="4.5" height="3.8"/><text x="411" y="452">Minor Injury</text></g>
<g id="r3a"><rect class="nd" x="426" y="469" width="28" height="18" rx="1.5"/><rect class="ye" x="427" y="482.5" width="26" height="3.7"/><text x="440" y="475.3"><tspan>Training in</tspan><tspan x="440" dy="3.3">Environment</tspan></text></g>
<g id="r3a1"><rect class="bx" x="397" y="478.5" width="27.5" height="10.5"/><rect class="io" x="409.05" y="469.5" width="3.4" height="8"/><text x="410.75" y="483"><tspan>Formal specific</tspan><tspan x="410.75" dy="3.3">training</tspan></text></g>

<!-- consequence 4 -->
<g id="c4b1"><rect class="bx" x="337" y="502.5" width="27.5" height="10.5"/><rect class="io" x="349.05" y="493.5" width="3.4" height="8"/><text x="350.75" y="507"><tspan>Communication</tspan><tspan x="350.75" dy="3.3">to team</tspan></text></g>
<g id="c4b2"><rect class="bx" x="367" y="502.5" width="27.5" height="11.5"/><rect class="io" x="379.05" y="493.5" width="3.4" height="8"/><text x="380.75" y="505.8"><tspan>Detailed</tspan><tspan x="380.75" dy="3">investigation /</tspan><tspan x="380.75" dy="3">processes</tspan></text></g>
<g id="c4"><rect class="nd" x="397" y="492" width="28" height="19" rx="1.5"/><rect class="gy" x="398" y="506.3" width="26" height="3.8"/><rect class="rd" x="398" y="506.3" width="4.5" height="3.8"/><rect class="rd" x="419.5" y="506.3" width="4.5" height="3.8"/><text x="411" y="498.8"><tspan>Equipment</tspan><tspan x="411" dy="3.3">Damage</tspan></text></g>

<!-- consequence 5 -->
<g id="c5b1"><rect class="bx" x="337" y="527.5" width="27.5" height="11.5"/><rect class="io" x="349.05" y="518.5" width="3.4" height="8"/><text x="350.75" y="530.8"><tspan>Incident /</tspan><tspan x="350.75" dy="3">management /</tspan><tspan x="350.75" dy="3">response</tspan></text></g>
<g id="c5b2"><rect class="bx" x="367" y="527.5" width="27.5" height="10.5"/><rect class="io" x="379.05" y="518.5" width="3.4" height="8"/><text x="380.75" y="532"><tspan>Insurance /</tspan><tspan x="380.75" dy="3.3">support</tspan></text></g>
<g id="c5"><rect class="nd" x="397" y="517" width="28" height="19" rx="1.5"/><rect class="gy" x="398" y="531.3" width="26" height="3.8"/><rect class="rd" x="398" y="531.3" width="4.5" height="3.8"/><rect class="rd" x="419.5" y="531.3" width="4.5" height="3.8"/><text x="411" y="526">Financial loss</text></g>
</svg>
